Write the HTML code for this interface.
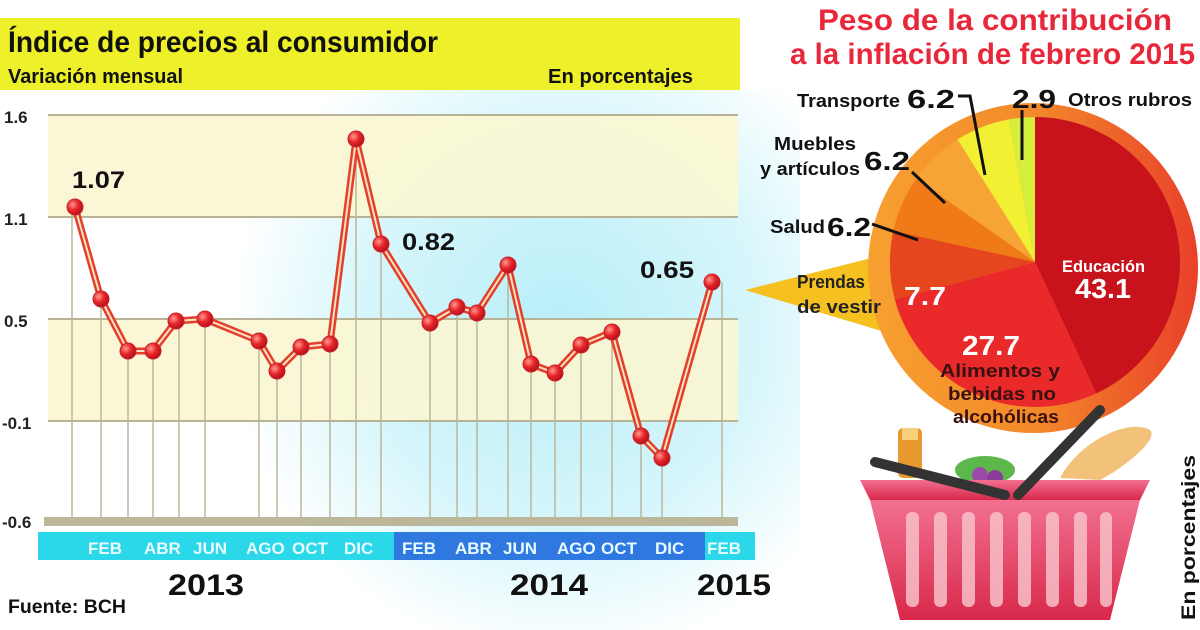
<!DOCTYPE html>
<html><head><meta charset="utf-8"><style>
html,body{margin:0;padding:0;background:#fff}
svg{display:block}
text{font-family:"Liberation Sans",sans-serif}
</style></head><body>
<svg width="1200" height="630" viewBox="0 0 1200 630" xmlns="http://www.w3.org/2000/svg">
<defs>
<radialGradient id="bg" cx="560" cy="330" r="330" gradientUnits="userSpaceOnUse">
<stop offset="0" stop-color="#b8eef8"/><stop offset="0.6" stop-color="#d6f6fb"/><stop offset="1" stop-color="#ffffff"/></radialGradient>
<radialGradient id="dot" cx="0.35" cy="0.35" r="0.7">
<stop offset="0" stop-color="#ff9a90"/><stop offset="0.5" stop-color="#e8262a"/><stop offset="1" stop-color="#b0101a"/></radialGradient>
<linearGradient id="ring" x1="0" y1="0" x2="1" y2="0">
<stop offset="0" stop-color="#f7a030"/><stop offset="0.5" stop-color="#f38a2a"/><stop offset="1" stop-color="#e9402a"/></linearGradient>
<linearGradient id="bask" x1="0" y1="0" x2="0" y2="1">
<stop offset="0" stop-color="#f27090"/><stop offset="1" stop-color="#d8284a"/></linearGradient>
</defs>
<rect width="1200" height="630" fill="#fff"/>
<rect x="0" y="90" width="800" height="540" fill="url(#bg)"/>
<!-- header -->
<rect x="0" y="18" width="740" height="72" fill="#eef02a"/>
<text x="8" y="52" font-size="30" font-weight="bold" textLength="430" lengthAdjust="spacingAndGlyphs" fill="#111">Índice de precios al consumidor</text>
<text x="8" y="83" font-size="20" font-weight="bold" textLength="175" lengthAdjust="spacingAndGlyphs" fill="#111">Variación mensual</text>
<text x="548" y="83" font-size="20" font-weight="bold" textLength="145" lengthAdjust="spacingAndGlyphs" fill="#111">En porcentajes</text>
<!-- bands -->
<rect x="48" y="115" width="690" height="102" fill="#fbf6d2" opacity="0.9"/>
<rect x="48" y="319" width="690" height="102" fill="#fbf6d2" opacity="0.9"/>
<g stroke="#b7b394" stroke-width="2">
<line x1="48" y1="115" x2="738" y2="115"/><line x1="48" y1="217" x2="738" y2="217"/>
<line x1="48" y1="319" x2="738" y2="319"/><line x1="48" y1="421" x2="738" y2="421"/>
</g>
<rect x="44" y="517" width="694" height="9" fill="#bcb69a"/>
<g font-size="17" font-weight="bold" fill="#222">
<text x="4" y="123">1.6</text><text x="4" y="225">1.1</text><text x="4" y="327">0.5</text>
<text x="2" y="429">-0.1</text><text x="2" y="528">-0.6</text>
</g>
<!-- vertical lines -->
<g stroke="#bcb69a" stroke-width="1.5">
<line x1="72" y1="215" x2="72" y2="518"/><line x1="101" y1="299" x2="101" y2="518"/><line x1="128" y1="351" x2="128" y2="518"/><line x1="153" y1="351" x2="153" y2="518"/><line x1="179" y1="321" x2="179" y2="518"/><line x1="205" y1="319" x2="205" y2="518"/><line x1="259" y1="341" x2="259" y2="518"/><line x1="277" y1="371" x2="277" y2="518"/><line x1="301" y1="347" x2="301" y2="518"/><line x1="330" y1="344" x2="330" y2="518"/><line x1="356" y1="139" x2="356" y2="518"/><line x1="381" y1="244" x2="381" y2="518"/><line x1="430" y1="323" x2="430" y2="518"/><line x1="457" y1="307" x2="457" y2="518"/><line x1="477" y1="313" x2="477" y2="518"/><line x1="508" y1="265" x2="508" y2="518"/><line x1="531" y1="364" x2="531" y2="518"/><line x1="555" y1="373" x2="555" y2="518"/><line x1="581" y1="345" x2="581" y2="518"/><line x1="612" y1="332" x2="612" y2="518"/><line x1="641" y1="436" x2="641" y2="518"/><line x1="662" y1="458" x2="662" y2="518"/><line x1="722" y1="282" x2="722" y2="518"/>
</g>
<!-- series -->
<polyline fill="none" stroke="#e2402a" stroke-width="7" stroke-linejoin="round" points="75,207 101,299 128,351 153,351 176,321 205,319 259,341 277,371 301,347 330,344 356,139 381,244 430,323 457,307 477,313 508,265 531,364 555,373 581,345 612,332 641,436 662,458 712,282"/>
<polyline fill="none" stroke="#fde2c4" stroke-width="2" stroke-linejoin="round" points="75,207 101,299 128,351 153,351 176,321 205,319 259,341 277,371 301,347 330,344 356,139 381,244 430,323 457,307 477,313 508,265 531,364 555,373 581,345 612,332 641,436 662,458 712,282"/>
<g fill="url(#dot)" stroke="#c8202a" stroke-width="1">
<circle cx="75" cy="207" r="8"/><circle cx="101" cy="299" r="8"/><circle cx="128" cy="351" r="8"/><circle cx="153" cy="351" r="8"/><circle cx="176" cy="321" r="8"/><circle cx="205" cy="319" r="8"/><circle cx="259" cy="341" r="8"/><circle cx="277" cy="371" r="8"/><circle cx="301" cy="347" r="8"/><circle cx="330" cy="344" r="8"/><circle cx="356" cy="139" r="8"/><circle cx="381" cy="244" r="8"/><circle cx="430" cy="323" r="8"/><circle cx="457" cy="307" r="8"/><circle cx="477" cy="313" r="8"/><circle cx="508" cy="265" r="8"/><circle cx="531" cy="364" r="8"/><circle cx="555" cy="373" r="8"/><circle cx="581" cy="345" r="8"/><circle cx="612" cy="332" r="8"/><circle cx="641" cy="436" r="8"/><circle cx="662" cy="458" r="8"/><circle cx="712" cy="282" r="8"/>
</g>
<g font-size="24" font-weight="bold" fill="#111">
<text x="72" y="188" textLength="53" lengthAdjust="spacingAndGlyphs">1.07</text>
<text x="402" y="250" textLength="53" lengthAdjust="spacingAndGlyphs">0.82</text>
<text x="640" y="278" textLength="54" lengthAdjust="spacingAndGlyphs">0.65</text>
</g>
<!-- x axis bar -->
<rect x="38" y="532" width="356" height="28" fill="#2ad8ea"/>
<rect x="394" y="532" width="311" height="28" fill="#2f78e0"/>
<rect x="705" y="532" width="50" height="28" fill="#2ad8ea"/>
<g font-size="17" font-weight="bold" fill="#e8fbff">
<text x="88" y="554">FEB</text><text x="144" y="554">ABR</text><text x="193" y="554">JUN</text><text x="246" y="554">AGO</text><text x="292" y="554">OCT</text><text x="344" y="554">DIC</text>
<text x="402" y="554">FEB</text><text x="455" y="554">ABR</text><text x="503" y="554">JUN</text><text x="557" y="554">AGO</text><text x="601" y="554">OCT</text><text x="655" y="554">DIC</text><text x="707" y="554">FEB</text>
</g>
<g font-size="30" font-weight="bold" fill="#111">
<text x="168" y="595" textLength="76" lengthAdjust="spacingAndGlyphs">2013</text>
<text x="510" y="595" textLength="78" lengthAdjust="spacingAndGlyphs">2014</text>
<text x="697" y="595" textLength="74" lengthAdjust="spacingAndGlyphs">2015</text>
</g>
<text x="8" y="613" font-size="19" font-weight="bold" fill="#111" textLength="118" lengthAdjust="spacingAndGlyphs">Fuente: BCH</text>

<!-- right: title -->
<g font-size="30" font-weight="bold" fill="#e8283a">
<text x="818" y="30" textLength="354" lengthAdjust="spacingAndGlyphs">Peso de la contribución</text>
<text x="790" y="64" textLength="405" lengthAdjust="spacingAndGlyphs">a la inflación de febrero 2015</text>
</g>
<!-- callout -->
<polygon points="745,290 895,252 895,335" fill="#f5c020"/>
<!-- outer ring -->
<circle cx="1033" cy="268" r="165" fill="url(#ring)"/>
<!-- pie slices: center 1035,262 r 145 -->
<g transform="translate(1035,262)">
<path d="M0,0 L0,-145 A145,145 0 0 1 61.3,131.4 Z" fill="#c8121c"/>
<path d="M0,0 L61.3,131.4 A145,145 0 0 1 -140.2,37.4 Z" fill="#ea2a2a"/>
<path d="M0,0 L-140.2,37.4 A145,145 0 0 1 -141.6,-31.2 Z" fill="#e6461e"/>
<path d="M0,0 L-141.6,-31.2 A145,145 0 0 1 -118.6,-83.4 Z" fill="#f07a18"/>
<path d="M0,0 L-118.6,-83.4 A145,145 0 0 1 -77.5,-122.5 Z" fill="#f7a436"/>
<path d="M0,0 L-77.5,-122.5 A145,145 0 0 1 -26.2,-142.6 Z" fill="#f2f032"/>
<path d="M0,0 L-26.2,-142.6 A145,145 0 0 1 0,-145 Z" fill="#d6ee3a"/>
</g>
<!-- leader lines -->
<g stroke="#111" stroke-width="3" fill="none">
<polyline points="958,96 970,96 985,175"/>
<line x1="1022" y1="110" x2="1022" y2="160"/>
<line x1="912" y1="172" x2="945" y2="203"/>
<line x1="872" y1="224" x2="918" y2="240"/>
</g>
<g font-weight="bold" fill="#111">
<text x="797" y="107" font-size="18" textLength="103" lengthAdjust="spacingAndGlyphs">Transporte</text>
<text x="907" y="108" font-size="26" textLength="48" lengthAdjust="spacingAndGlyphs">6.2</text>
<text x="1012" y="108" font-size="26" textLength="44" lengthAdjust="spacingAndGlyphs">2.9</text>
<text x="1068" y="106" font-size="18" textLength="124" lengthAdjust="spacingAndGlyphs">Otros rubros</text>
<text x="774" y="150" font-size="18" textLength="82" lengthAdjust="spacingAndGlyphs">Muebles</text>
<text x="760" y="175" font-size="18" textLength="100" lengthAdjust="spacingAndGlyphs">y artículos</text>
<text x="864" y="170" font-size="26" textLength="46" lengthAdjust="spacingAndGlyphs">6.2</text>
<text x="770" y="233" font-size="18" textLength="55" lengthAdjust="spacingAndGlyphs">Salud</text>
<text x="827" y="236" font-size="26" textLength="44" lengthAdjust="spacingAndGlyphs">6.2</text>
<text x="797" y="288" font-size="18" fill="#222" textLength="68" lengthAdjust="spacingAndGlyphs">Prendas</text>
<text x="797" y="313" font-size="18" fill="#222" textLength="84" lengthAdjust="spacingAndGlyphs">de vestir</text>
<text x="940" y="377" font-size="18" fill="#3a1010" textLength="120" lengthAdjust="spacingAndGlyphs">Alimentos y</text>
<text x="948" y="400" font-size="18" fill="#3a1010" textLength="108" lengthAdjust="spacingAndGlyphs">bebidas no</text>
<text x="953" y="423" font-size="18" fill="#3a1010" textLength="106" lengthAdjust="spacingAndGlyphs">alcohólicas</text>
</g>
<g font-weight="bold" fill="#fff">
<text x="904" y="305" font-size="26" textLength="42" lengthAdjust="spacingAndGlyphs">7.7</text>
<text x="962" y="355" font-size="28" textLength="58" lengthAdjust="spacingAndGlyphs">27.7</text>
<text x="1062" y="272" font-size="17" textLength="83" lengthAdjust="spacingAndGlyphs">Educación</text>
<text x="1075" y="298" font-size="28" textLength="56" lengthAdjust="spacingAndGlyphs">43.1</text>
</g>
<!-- basket -->
<rect x="898" y="428" width="24" height="50" rx="5" fill="#e89a30"/>
<rect x="902" y="428" width="16" height="12" fill="#f6d07a"/>
<path d="M1060,478 C1080,440 1130,418 1150,430 C1160,440 1120,470 1100,480 Z" fill="#f3c27a"/>
<ellipse cx="985" cy="470" rx="30" ry="14" fill="#5cb84a"/>
<circle cx="980" cy="475" r="8" fill="#9a4aa8"/><circle cx="995" cy="478" r="8" fill="#8a3a98"/>
<path d="M860,480 L1150,480 L1140,500 L870,500 Z" fill="url(#bask)"/>
<path d="M870,500 L1140,500 L1110,620 L900,620 Z" fill="url(#bask)"/>
<g fill="#f8c0c8" opacity="0.85">
<rect x="906" y="512" width="13" height="95" rx="6"/><rect x="934" y="512" width="13" height="95" rx="6"/><rect x="962" y="512" width="13" height="95" rx="6"/><rect x="990" y="512" width="13" height="95" rx="6"/><rect x="1018" y="512" width="13" height="95" rx="6"/><rect x="1046" y="512" width="13" height="95" rx="6"/><rect x="1074" y="512" width="13" height="95" rx="6"/><rect x="1100" y="512" width="12" height="95" rx="6"/>
</g>
<path d="M875,462 L1005,495" stroke="#333" stroke-width="10" stroke-linecap="round"/>
<path d="M1018,495 L1100,410" stroke="#333" stroke-width="10" stroke-linecap="round"/>
<text transform="translate(1195,620) rotate(-90)" font-size="19" font-weight="bold" fill="#111" textLength="165" lengthAdjust="spacingAndGlyphs">En porcentajes</text>
</svg>
</body></html>
